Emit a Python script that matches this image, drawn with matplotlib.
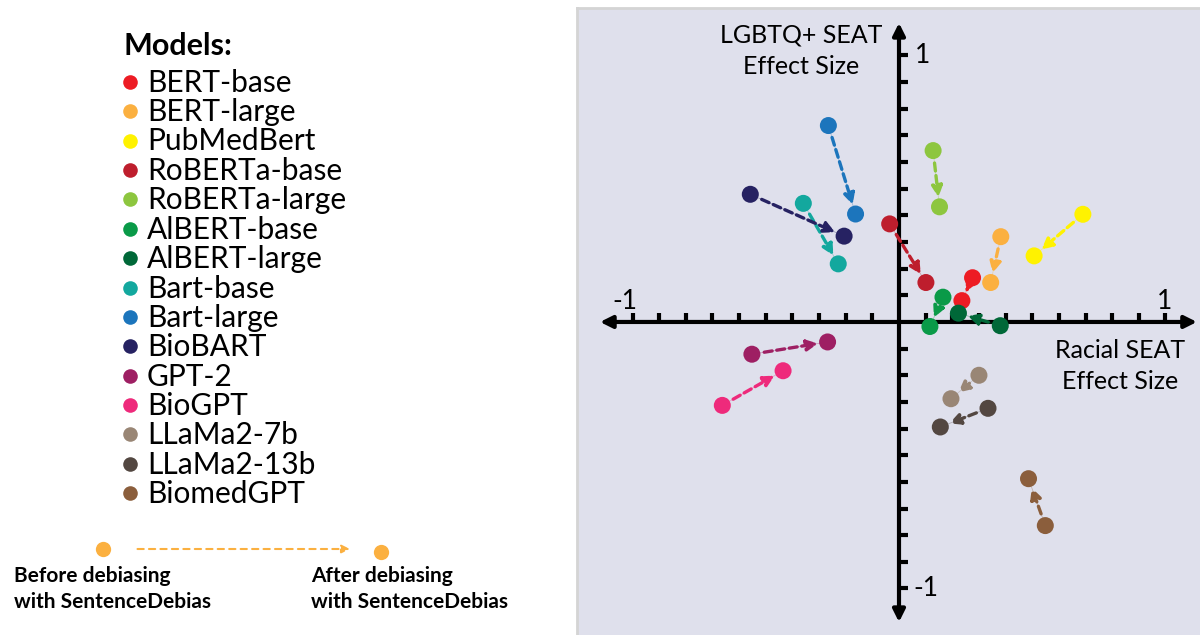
import numpy as np
import matplotlib
matplotlib.use('Agg')
import matplotlib.pyplot as plt

# models, colours, effect sizes before / after SentenceDebias
models = ['BERT-base', 'BERT-large', 'PubMedBert', 'RoBERTa-base', 'RoBERTa-large',
          'AlBERT-base', 'AlBERT-large', 'Bart-base', 'Bart-large', 'BioBART',
          'GPT-2', 'BioGPT', 'LLaMa2-7b', 'LLaMa2-13b', 'BiomedGPT']
colors = ['#ed1c24', '#fbb040', '#fff200', '#be1e2d', '#8dc63f',
          '#0a9a48', '#006838', '#13a89e', '#1c75bc', '#262262',
          '#9e1f63', '#ee2a7b', '#998675', '#534741', '#8b5e3c']
racial_before = [0.276, 0.382, 0.690, -0.035, 0.128, 0.165, 0.380, -0.359, -0.265, -0.558,
                 -0.552, -0.663, 0.300, 0.334, 0.549]
lgbtq_before = [0.166, 0.320, 0.404, 0.368, 0.643, 0.093, -0.014, 0.445, 0.737, 0.479,
                -0.121, -0.313, -0.200, -0.324, -0.764]
racial_after = [0.236, 0.344, 0.507, 0.101, 0.152, 0.116, 0.223, -0.228, -0.163, -0.206,
                -0.268, -0.435, 0.195, 0.155, 0.486]
lgbtq_after = [0.080, 0.148, 0.248, 0.148, 0.432, -0.017, 0.033, 0.218, 0.405, 0.322,
               -0.075, -0.183, -0.288, -0.394, -0.588]
ticks = np.round(np.arange(-1.0, 1.01, 0.1), 1)
ticks = ticks[ticks != 0]

plt.rcParams['font.family'] = ['Lato', 'DejaVu Sans']

fig = plt.figure(figsize=(12, 6.35), dpi=100)
fig.patch.set_facecolor('white')

# ---- plot panel ----
ax = fig.add_axes([577 / 1200, 0, 623 / 1200, 627 / 635])
ax.set_facecolor('#dfe0ec')
ax.set_xlim(-1.2083, 1.1295)
ax.set_ylim(-1.1745, 1.178)
ax.set_xticks([])
ax.set_yticks([])
for s in ['right', 'bottom']:
    ax.spines[s].set_visible(False)
for s in ['left', 'top']:
    ax.spines[s].set_color('#d4d4d4')
    ax.spines[s].set_linewidth(2)

# axes with arrow heads
ax.annotate('', xy=(-1.122, 0), xytext=(1.118, 0),
            arrowprops=dict(arrowstyle='<|-|>', lw=3, color='black',
                            mutation_scale=18, shrinkA=0, shrinkB=0), zorder=2)
ax.annotate('', xy=(0, -1.126), xytext=(0, 1.122),
            arrowprops=dict(arrowstyle='<|-|>', lw=3, color='black',
                            mutation_scale=18, shrinkA=0, shrinkB=0), zorder=2)
for t in ticks:
    ax.plot([t, t], [0, 0.034], color='black', lw=3, solid_capstyle='butt', zorder=2)
    ax.plot([0, 0.034], [t, t], color='black', lw=3, solid_capstyle='butt', zorder=2)

lab = dict(fontsize=19, color='black', ha='center', va='center')
ax.text(0.09, 1.0, '1', **lab)
ax.text(0.1, -1.0, '-1', **lab)
ax.text(-1.03, 0.078, '-1', **lab)
ax.text(0.995, 0.078, '1', **lab)
ax.text(-0.368, 1.017, 'LGBTQ+ SEAT\nEffect Size', fontsize=18, ha='center',
        va='center', linespacing=1.45)
ax.text(0.829, -0.165, 'Racial SEAT\nEffect Size', fontsize=18, ha='center',
        va='center', linespacing=1.45)

# shifts before -> after
for i in range(len(models)):
    x0, y0 = racial_before[i], lgbtq_before[i]
    x1, y1 = racial_after[i], lgbtq_after[i]
    ax.plot([x0, x1], [y0, y1], color=colors[i], lw=0.6, alpha=0.35, zorder=3)
    ax.annotate('', xy=(x1, y1), xytext=(x0, y0),
                arrowprops=dict(arrowstyle='-|>', color=colors[i], lw=2.4,
                                linestyle=(0, (2.4, 1.4)), mutation_scale=16,
                                shrinkA=9, shrinkB=7), zorder=3)
ax.scatter(racial_before, lgbtq_before, s=150, c=colors, edgecolors='none', zorder=4)
ax.scatter(racial_after, lgbtq_after, s=150, c=colors, edgecolors='none', zorder=4)

# ---- legend panel (pixel coordinates) ----
lax = fig.add_axes([0, 0, 577 / 1200, 1])
lax.set_xlim(0, 577)
lax.set_ylim(635, 0)
lax.axis('off')

lax.text(124, 45 + 10, 'Models:', fontsize=22, fontweight='bold', va='baseline', ha='left')
rows = 81.7 + 29.4 * np.arange(len(models))
for name, col, y in zip(models, colors, rows):
    lax.plot(130, y, 'o', ms=10.5, color=col, mec='none')
    lax.text(147, y + 10, name, fontsize=21.5, va='baseline', ha='left')

lax.plot(102.5, 549, 'o', ms=11, color='#fbb040', mec='none')
lax.plot(381, 552, 'o', ms=11, color='#fbb040', mec='none')
lax.annotate('', xy=(350, 549), xytext=(137.5, 549),
             arrowprops=dict(arrowstyle='-|>', color='#fbb040', lw=1.5,
                             linestyle=(0, (3, 2.5)), mutation_scale=12,
                             shrinkA=0, shrinkB=0))
bl = dict(fontsize=15, fontweight='bold', va='baseline', ha='left')
lax.text(14, 582, 'Before debiasing', **bl)
lax.text(14, 608, 'with SentenceDebias', **bl)
lax.text(311, 582, 'After debiasing', **bl)
lax.text(311, 608, 'with SentenceDebias', **bl)

fig.savefig('out.png', dpi=100)
